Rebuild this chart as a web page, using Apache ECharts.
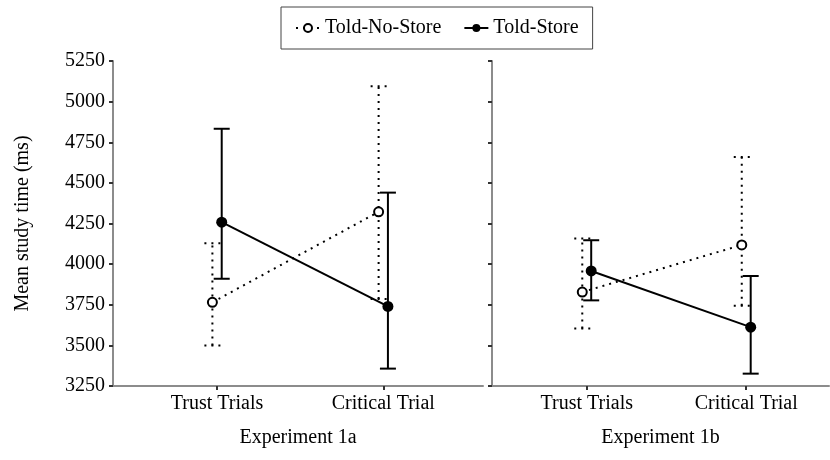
<!DOCTYPE html>
<html>
<head>
<meta charset="utf-8">
<script src="https://cdn.jsdelivr.net/npm/echarts@6/dist/echarts.min.js"></script>
<style>
  html, body { margin: 0; padding: 0; background: #fff; }
  #chart { width: 830px; height: 460px; }
</style>
</head>
<body>
<div id="chart"></div>
<script>
const categories = ['Trust Trials', 'Critical Trial']
const panels = ['Experiment 1a', 'Experiment 1b']
const yTicks = [3250, 3500, 3750, 4000, 4250, 4500, 4750, 5000, 5250]

// Experiment 1a
const noStoreMean1a = [3765, 4322]
const noStoreLow1a  = [3500, 3785]
const noStoreHigh1a = [4128, 5095]
const storeMean1a   = [4258, 3740]
const storeLow1a    = [3910, 3357]
const storeHigh1a   = [4833, 4440]

// Experiment 1b
const noStoreMean1b = [3828, 4118]
const noStoreLow1b  = [3604, 3744]
const noStoreHigh1b = [4158, 4660]
const storeMean1b   = [3958, 3612]
const storeLow1b    = [3777, 3326]
const storeHigh1b   = [4147, 3927]

const FONT = 'Liberation Serif'
const DODGE = 0.028
const AXIS = '#8c8c8c'

const pts = (mean, side) => mean.map((v, i) => [i + side * DODGE, v])
const bars = (lo, hi, side) => lo.map((v, i) => [i + side * DODGE, v, hi[i]])

function errorBars(dotted) {
  return (params, api) => {
    const x = api.value(0)
    const lo = api.coord([x, api.value(1)])
    const hi = api.coord([x, api.value(2)])
    const half = 8
    const style = { stroke: '#000', lineWidth: 2, lineDash: dotted ? [2, 5] : null, fill: null }
    return {
      type: 'group',
      children: [
        { type: 'line', shape: { x1: lo[0], y1: lo[1], x2: hi[0], y2: hi[1] }, style },
        { type: 'line', shape: { x1: lo[0] - half, y1: lo[1], x2: lo[0] + half, y2: lo[1] }, style },
        { type: 'line', shape: { x1: hi[0] - half, y1: hi[1], x2: hi[0] + half, y2: hi[1] }, style },
      ],
    }
  }
}

function xAxis(idx, min, max) {
  return {
    type: 'value', gridIndex: idx, min, max,
    name: panels[idx], nameLocation: 'middle', nameGap: 42,
    nameTextStyle: { fontFamily: FONT, fontSize: 20, color: '#000' },
    splitLine: { show: false },
    axisLine: { show: true, onZero: false, lineStyle: { color: AXIS, width: 2 } },
    axisTick: { show: true, customValues: [0, 1], length: 4, lineStyle: { color: '#333', width: 2 } },
    axisLabel: {
      customValues: [0, 1], margin: 8,
      formatter: v => categories[Math.round(v)],
      fontFamily: FONT, fontSize: 20, color: '#000',
    },
  }
}

function yAxis(idx, labels) {
  return {
    type: 'value', gridIndex: idx, min: yTicks[0], max: yTicks[yTicks.length - 1], interval: 250,
    name: labels ? 'Mean study time (ms)' : '', nameLocation: 'middle', nameGap: 80,
    nameTextStyle: { fontFamily: FONT, fontSize: 20, color: '#000' },
    splitLine: { show: false },
    axisLine: { show: true, onZero: false, lineStyle: { color: AXIS, width: 2 } },
    axisTick: { show: true, length: 4, lineStyle: { color: '#333', width: 2 } },
    axisLabel: {
      show: labels, margin: 8, formatter: v => String(v),
      fontFamily: FONT, fontSize: 20, color: '#000',
    },
  }
}

function panelSeries(idx, nsMean, nsLo, nsHi, sMean, sLo, sHi) {
  return [
    {
      name: 'ns-err-' + idx, type: 'custom', xAxisIndex: idx, yAxisIndex: idx,
      renderItem: errorBars(true), data: bars(nsLo, nsHi, -1), z: 2,
    },
    {
      name: 's-err-' + idx, type: 'custom', xAxisIndex: idx, yAxisIndex: idx,
      renderItem: errorBars(false), data: bars(sLo, sHi, 1), z: 2,
    },
    {
      name: 'Told-No-Store', type: 'line', xAxisIndex: idx, yAxisIndex: idx,
      data: pts(nsMean, -1), symbol: 'emptyCircle', symbolSize: 9, showSymbol: true,
      lineStyle: { color: '#000', width: 2, type: [2, 5] },
      itemStyle: { color: '#000', borderWidth: 1.5 },
      z: 3,
    },
    {
      name: 'Told-Store', type: 'line', xAxisIndex: idx, yAxisIndex: idx,
      data: pts(sMean, 1), symbol: 'circle', symbolSize: 11, showSymbol: true,
      lineStyle: { color: '#000', width: 2 },
      itemStyle: { color: '#000' },
      z: 4,
    },
  ]
}

const chart = echarts.init(document.getElementById('chart'), null, { renderer: 'canvas' })
chart.setOption({
  animation: false,
  legend: {
    data: ['Told-No-Store', 'Told-Store'],
    left: 281, top: 7,
    padding: [11, 14],
    itemGap: 22, itemWidth: 24, itemHeight: 10,
    borderColor: '#444', borderWidth: 1,
    textStyle: { fontFamily: FONT, fontSize: 20, color: '#000' },
  },
  grid: [
    { left: 113, right: 347, top: 61, bottom: 74 },
    { left: 492, right: 1, top: 61, bottom: 74 },
  ],
  xAxis: [xAxis(0, -0.626, 1.6), xAxis(1, -0.594, 1.519)],
  yAxis: [yAxis(0, true), yAxis(1, false)],
  series: [
    ...panelSeries(0, noStoreMean1a, noStoreLow1a, noStoreHigh1a, storeMean1a, storeLow1a, storeHigh1a),
    ...panelSeries(1, noStoreMean1b, noStoreLow1b, noStoreHigh1b, storeMean1b, storeLow1b, storeHigh1b),
  ],
})
</script>
</body>
</html>
